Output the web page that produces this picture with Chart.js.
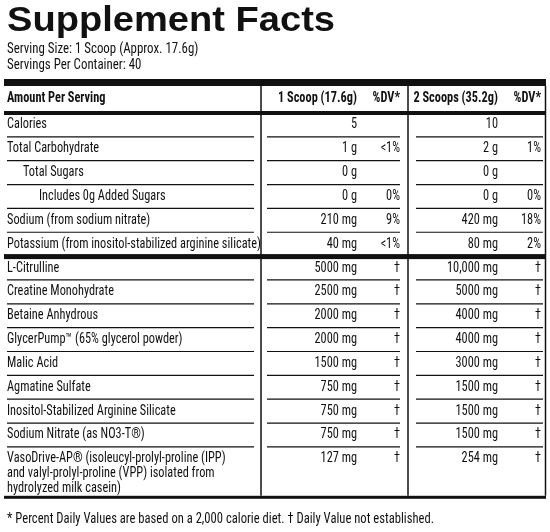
<!DOCTYPE html>
<html><head><meta charset="utf-8">
<script src="https://cdn.jsdelivr.net/npm/chart.js@4"></script>
<style>html,body{margin:0;padding:0;background:#fff}#wrap{width:550px;height:532px;position:relative}</style>
</head><body><div id="wrap"><canvas id="c"></canvas></div>
<script>
const title = "Supplement Facts";
const servingLines = ["Serving Size: 1 Scoop (Approx. 17.6g)", "Servings Per Container: 40"];
const headers = ["Amount Per Serving", "1 Scoop (17.6g)", "%DV*", "2 Scoops (35.2g)", "%DV*"];
const names = ["Calories","Total Carbohydrate","Total Sugars","Includes 0g Added Sugars","Sodium (from sodium nitrate)","Potassium (from inositol-stabilized arginine silicate)","L-Citrulline","Creatine Monohydrate","Betaine Anhydrous","GlycerPump\u2122 (65% glycerol powder)","Malic Acid","Agmatine Sulfate","Inositol-Stabilized Arginine Silicate","Sodium Nitrate (as NO3-T\u00AE)","VasoDrive-AP\u00AE (isoleucyl-prolyl-proline (IPP)|and valyl-prolyl-proline (VPP) isolated from|hydrolyzed milk casein)"];
const indents = [0,0,1,2,0,0,0,0,0,0,0,0,0,0,0];
const amount1 = ["5","1 g","0 g","0 g","210 mg","40 mg","5000 mg","2500 mg","2000 mg","2000 mg","1500 mg","750 mg","750 mg","750 mg","127 mg"];
const dv1 = ["","<1%","","0%","9%","<1%","\u2020","\u2020","\u2020","\u2020","\u2020","\u2020","\u2020","\u2020","\u2020"];
const amount2 = ["10","2 g","0 g","0 g","420 mg","80 mg","10,000 mg","5000 mg","4000 mg","4000 mg","3000 mg","1500 mg","1500 mg","1500 mg","254 mg"];
const dv2 = ["","1%","","0%","18%","2%","\u2020","\u2020","\u2020","\u2020","\u2020","\u2020","\u2020","\u2020","\u2020"];
const footnote = "* Percent Daily Values are based on a 2,000 calorie diet. \u2020 Daily Value not established.";
const slotLabels = names.map((n,i)=>"r"+i).concat(["x1","x2"]);

const F = "'Roboto Condensed','Liberation Sans Narrow',Roboto,sans-serif";
function fillT(ctx, t, x, y, align, sx){
  sx = sx || 0.88;
  const w = ctx.measureText(t).width * sx;
  const x0 = align === 'right' ? x - w : x;
  ctx.save(); ctx.textAlign = 'left'; ctx.translate(x0, y); ctx.scale(sx, 1); ctx.fillText(t, 0, 0); ctx.restore();
}
const tablePlugin = {
  id:'table',
  afterDraw(chart){
    const ctx = chart.ctx, y = chart.scales.y;
    const h = y.getPixelForValue(1) - y.getPixelForValue(0);
    const cy = i => y.getPixelForValue(i);
    ctx.save();
    ctx.fillStyle = '#111'; ctx.strokeStyle = '#111';
    ctx.textBaseline = 'middle';
    ctx.font = "bold 34px 'Liberation Sans', Arial, sans-serif";
    const tw = ctx.measureText(title).width;
    ctx.save(); ctx.translate(7, 21); ctx.scale(328/tw, 1.05); ctx.fillText(title, 0, 0); ctx.restore();
    ctx.font = "14px " + F;
    fillT(ctx, servingLines[0], 7, 49, 'left', 0.92);
    fillT(ctx, servingLines[1], 7, 65, 'left', 0.92);
    const top = cy(0) - h/2;
    ctx.fillRect(4, 79, 542, 7);
    ctx.fillRect(4, top - 2, 542, 4);
    ctx.fillRect(4, cy(5)+h/2 - 2, 542, 5);
    const bottom = cy(14) - h/2 + 2.05*h;
    ctx.fillRect(4, bottom, 542, 3);
    ctx.lineWidth = 1.5;
    [261,408,545.5].forEach(x=>{ctx.beginPath();ctx.moveTo(x,86);ctx.lineTo(x,bottom);ctx.stroke();});
    ctx.font = "bold 14px " + F;
    fillT(ctx, headers[0], 7, 98, 'left');
    fillT(ctx, headers[1], 357, 98, 'right');
    fillT(ctx, headers[2], 400, 98, 'right');
    fillT(ctx, headers[3], 498, 98, 'right');
    fillT(ctx, headers[4], 541, 98, 'right');
    ctx.font = "14px " + F;
    ctx.lineWidth = 1.2;
    names.forEach((n,i)=>{
      const c = cy(i);
      n.split('|').forEach((ln,k)=>fillT(ctx, ln, 7 + indents[i]*16, c + k*15, 'left'));
      fillT(ctx, amount1[i], 357, c, 'right'); fillT(ctx, dv1[i], 400, c, 'right');
      fillT(ctx, amount2[i], 498, c, 'right'); fillT(ctx, dv2[i], 541, c, 'right');
      if (i!==5 && i<14){
        const ly = c + h/2;
        [[7,254],[267,400],[416,543]].forEach(([a,b])=>{ctx.beginPath();ctx.moveTo(a,ly);ctx.lineTo(b,ly);ctx.stroke();});
      }
    });
    ctx.font = "14px " + F;
    fillT(ctx, footnote, 7, 519, 'left', 0.9);
    ctx.restore();
  }
};
new Chart(document.getElementById('c'),{
  type:'bar',
  data:{labels:slotLabels,datasets:[{data:slotLabels.map(()=>0)}]},
  options:{indexAxis:'y',responsive:true,maintainAspectRatio:false,animation:false,
    layout:{padding:{top:113,bottom:532-113-17*23.85,left:0,right:0}},
    plugins:{legend:{display:false},tooltip:{enabled:false}},
    scales:{x:{display:false},y:{display:false,offset:true}}},
  plugins:[tablePlugin]
});
</script></body></html>
